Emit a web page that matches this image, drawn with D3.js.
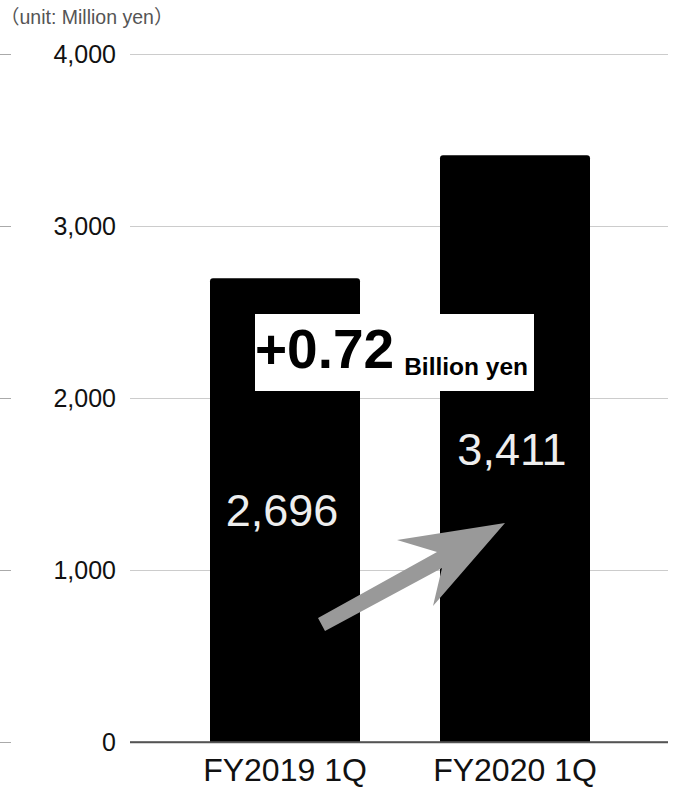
<!DOCTYPE html>
<html>
<head>
<meta charset="utf-8">
<script src="https://cdn.jsdelivr.net/npm/d3@7"></script>
<style>
  html, body { margin: 0; padding: 0; background: #fff; }
  svg { display: block; }
</style>
</head>
<body>
<svg id="chart" width="674" height="787"></svg>
<script>
// Quarterly revenue, million yen
const categories = ["FY2019 1Q", "FY2020 1Q"];
const revenue = [2696, 3411];
const yTicks = [0, 1000, 2000, 3000, 4000];
const unitLabel = "（unit: Million yen）";
const changeMain = "+0.72";
const changeUnit = "Billion yen";

const svg = d3.select("#chart");
const font = "Liberation Sans, Arimo, Arial, Helvetica, sans-serif";

const y = d3.scaleLinear().domain([0, 4000]).range([742, 54]);
const x = d3.scaleBand()
  .domain(categories)
  .range([170, 630])
  .paddingInner(80 / 230)
  .paddingOuter(40 / 230);

// unit caption
svg.append("text")
  .attr("x", 0).attr("y", 24)
  .attr("font-family", "Liberation Sans, Noto Sans CJK JP, sans-serif")
  .attr("font-size", 19.5)
  .attr("fill", "#555")
  .text(unitLabel);

// gridlines and tick labels
const yAxis = d3.axisLeft(y)
  .tickValues(yTicks)
  .tickSize(0)
  .tickPadding(14)
  .tickFormat(d3.format(","));

const gAxis = svg.append("g")
  .attr("transform", "translate(130,0)")
  .call(yAxis);
gAxis.attr("font-family", font);
gAxis.select(".domain").remove();
gAxis.selectAll(".tick text")
  .attr("font-family", font)
  .attr("font-size", 25)
  .attr("fill", "#111");
gAxis.selectAll(".tick").append("line")
  .attr("x1", 0).attr("x2", 538)
  .attr("stroke", d => d === 0 ? "#555" : "#ccc")
  .attr("stroke-width", d => d === 0 ? 1.5 : 1);
gAxis.selectAll(".tick").append("line")
  .attr("x1", -130).attr("x2", -119)
  .attr("stroke", "#aaa")
  .attr("stroke-width", 1);

// bars with slightly rounded top corners
const r = 3;
function barPath(d, i) {
  const x0 = x(categories[i]), w = x.bandwidth();
  const top = y(d), base = y(0);
  return `M${x0},${base}V${top + r}Q${x0},${top} ${x0 + r},${top}` +
    `H${x0 + w - r}Q${x0 + w},${top} ${x0 + w},${top + r}V${base}Z`;
}
svg.append("g").selectAll("path")
  .data(revenue)
  .join("path")
  .attr("d", barPath)
  .attr("fill", "#000");

// redraw zero line over bars
svg.append("line")
  .attr("x1", 130).attr("x2", 668)
  .attr("y1", y(0)).attr("y2", y(0))
  .attr("stroke", "#555").attr("stroke-width", 1.5);

// value labels in the middle of each bar
svg.append("g").selectAll("text")
  .data(revenue)
  .join("text")
  .attr("x", (d, i) => x(categories[i]) + x.bandwidth() / 2 - 3)
  .attr("y", d => (y(d) + y(0)) / 2)
  .attr("dy", "0.36em")
  .attr("text-anchor", "middle")
  .attr("font-family", font)
  .attr("font-size", 45)
  .attr("fill", "#eeeeee")
  .text(d => d3.format(",")(d));

// category labels
svg.append("g").selectAll("text")
  .data(categories)
  .join("text")
  .attr("x", d => x(d) + x.bandwidth() / 2)
  .attr("y", 781)
  .attr("text-anchor", "middle")
  .attr("font-family", font)
  .attr("font-size", 32)
  .attr("fill", "#111")
  .text(d => d);

// change annotation box
svg.append("rect")
  .attr("x", 255).attr("y", 314)
  .attr("width", 279).attr("height", 77)
  .attr("fill", "#fff");
const ann = svg.append("text")
  .attr("x", 255).attr("y", 368)
  .attr("font-family", font)
  .attr("font-weight", "bold")
  .attr("fill", "#000");
ann.append("tspan").attr("font-size", 55).text(changeMain);
ann.append("tspan").attr("font-size", 24.5).attr("dx", 10).attr("dy", 7).text(changeUnit);

// upward arrow between the bars
const arrowPts = [
  [318, 618], [437, 552], [397, 540], [505, 523],
  [433, 606], [442, 568], [325, 631]
];
svg.append("path")
  .attr("d", d3.line()(arrowPts) + "Z")
  .attr("fill", "#999");
</script>
</body>
</html>
